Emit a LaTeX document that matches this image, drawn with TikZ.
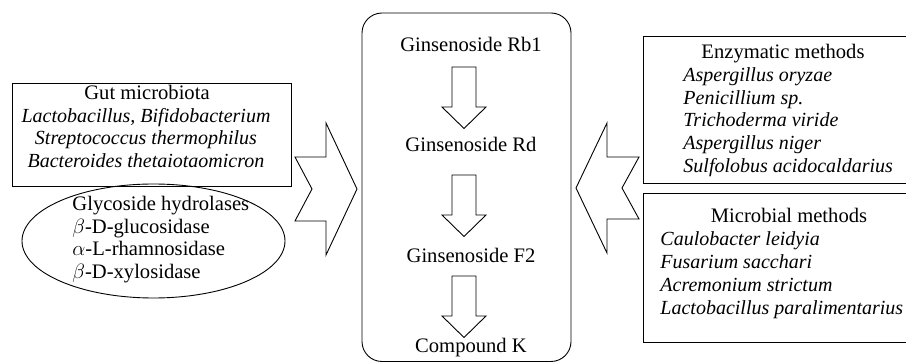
\documentclass[tikz,border=0pt]{standalone}
\usepackage{fontspec}
\setmainfont{Liberation Serif}
\begin{document}
\begin{tikzpicture}[x=1pt,y=-1pt,line width=0.9pt,
  txt/.style={inner sep=0pt,anchor=base,font=\fontsize{20.6}{22.5}\selectfont},
  txtl/.style={txt,anchor=base west},
  it/.style={font=\fontsize{20}{22.5}\selectfont\itshape},
  frame/.style={draw,inner sep=0pt},
  blockarrow/.style={draw,line join=miter,fill=white},
  downarrow/.pic={\path[blockarrow] (-12,0) -- (12,0) -- (12,40) -- (22,40) -- (0,61.5) -- (-22,40) -- (-12,40) -- cycle;}]
\useasboundingbox (0,0) rectangle (906,363);

% central box
\draw[rounded corners=20pt] (362,13) rectangle (571,361.5);
\node[txt] (rb1) at (471,52) {Ginsenoside Rb1};
\node[txt] (rd) at (471,152) {Ginsenoside Rd};
\node[txt] (f2) at (471,262.5) {Ginsenoside F2};
\node[txt] (ck) at (471,352.5) {Compound K};
\coordinate (a1) at (464,67);
\coordinate (a2) at (464,175);
\coordinate (a3) at (464,276);
\pic at (a1) {downarrow};
\pic at (a2) {downarrow};
\pic at (a3) {downarrow};

% gut microbiota box
\draw (12,83) rectangle (291,186);
\node[txt] (gut) at (147,100) {Gut microbiota};
\node[txt,it] (g1) at (146,122.5) {Lactobacillus, Bifidobacterium};
\node[txt,it] (g2) at (146,145) {Streptococcus thermophilus};
\node[txt,it] (g3) at (146,167.5) {Bacteroides thetaiotaomicron};

% glycoside hydrolases ellipse
\draw (153.5,241) ellipse [x radius=131.5pt,y radius=57pt];
\node[txtl] (gh) at (72,211) {Glycoside hydrolases};
\node[txtl] (e1) at (72,233.5) {$\beta$-D-glucosidase};
\node[txtl] (e2) at (72,256) {$\alpha$-L-rhamnosidase};
\node[txtl] (e3) at (72,278.5) {$\beta$-D-xylosidase};

% left block arrow (pointing right)
\path[blockarrow] (295,157) -- (326,157) -- (326,123) -- (357,189) -- (326,255) -- (326,221) -- (295,221) -- (312,189) -- cycle;

% right block arrow (pointing left)
\path[blockarrow] (576,188) -- (607,123) -- (607,157) -- (639,157) -- (622,188) -- (639,219) -- (607,219) -- (607,253) -- cycle;

% enzymatic methods box
\draw (643,36) rectangle (912,183);
\node[txt] (enz) at (783,59) {Enzymatic methods};
\node[txtl,it] (z1) at (683,81.7) {Aspergillus oryzae};
\node[txtl,it] (z2) at (683,104.4) {Penicillium sp.};
\node[txtl,it] (z3) at (683,127) {Trichoderma viride};
\node[txtl,it] (z4) at (683,149.8) {Aspergillus niger};
\node[txtl,it] (z5) at (683,172.5) {Sulfolobus acidocaldarius};

% microbial methods box
\draw (643,193) rectangle (912,342);
\node[txt] (mic) at (789,222.7) {Microbial methods};
\node[txtl,it] (m1) at (660,246) {Caulobacter leidyia};
\node[txtl,it] (m2) at (660,269) {Fusarium sacchari};
\node[txtl,it] (m3) at (660,292) {Acremonium strictum};
\node[txtl,it] (m4) at (660,315) {Lactobacillus paralimentarius};
\end{tikzpicture}
\end{document}
